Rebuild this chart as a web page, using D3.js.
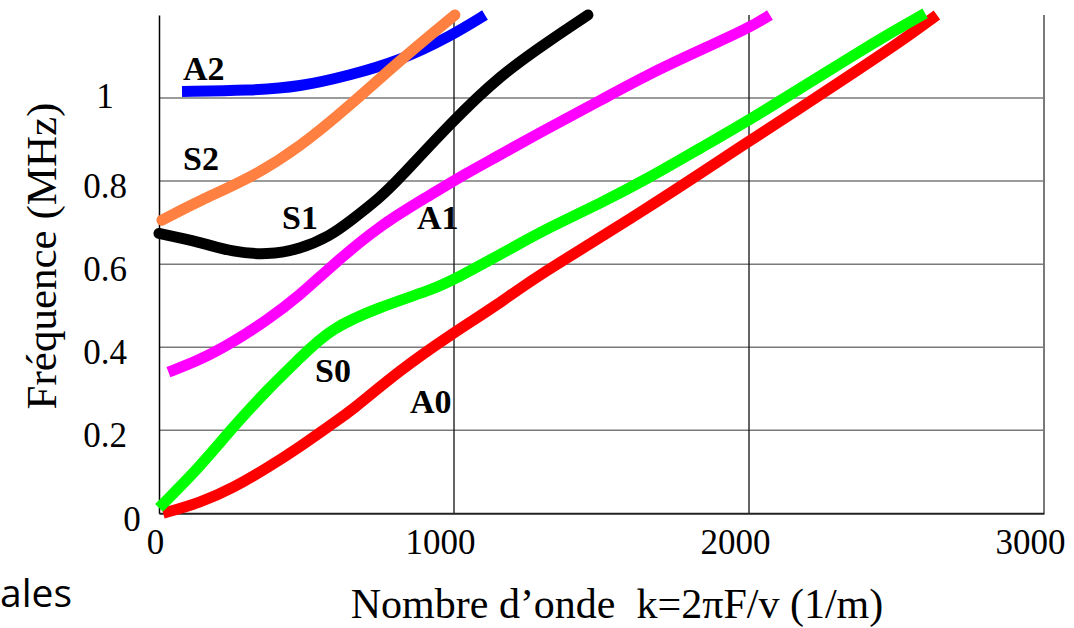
<!DOCTYPE html>
<html>
<head>
<meta charset="utf-8">
<script src="https://cdn.jsdelivr.net/npm/d3@7"></script>
<style>
  body { margin: 0; background: #fff; }
  svg { display: block; }
</style>
</head>
<body>
<svg id="chart"></svg>
<script>
// wave number k (1/m) and frequency (MHz)
const a0K = [14, 139, 251, 366, 478, 590, 647, 817, 986, 1156, 1268, 1664, 2003, 2173, 2342, 2512, 2637];
const a0F = [0.0, 0.025, 0.061, 0.109, 0.16, 0.217, 0.244, 0.345, 0.429, 0.506, 0.566, 0.737, 0.898, 0.975, 1.055, 1.135, 1.2];

const s0K = [0, 139, 251, 366, 478, 580, 749, 919, 997, 1224, 1325, 1495, 1664, 1834, 2003, 2173, 2342, 2512, 2597];
const s0F = [0.013, 0.112, 0.208, 0.297, 0.374, 0.445, 0.497, 0.537, 0.561, 0.65, 0.689, 0.746, 0.809, 0.879, 0.948, 1.023, 1.098, 1.17, 1.204];

const a1K = [32, 139, 251, 366, 478, 580, 749, 919, 1020, 1122, 1325, 1495, 1664, 1834, 2003, 2071];
const a1F = [0.34, 0.369, 0.412, 0.465, 0.525, 0.593, 0.694, 0.766, 0.81, 0.85, 0.93, 0.994, 1.059, 1.115, 1.17, 1.2];

const s1K = [0, 139, 251, 366, 478, 580, 647, 749, 807, 986, 1156, 1325, 1454];
const s1F = [0.674, 0.653, 0.629, 0.622, 0.636, 0.668, 0.703, 0.76, 0.8, 0.938, 1.055, 1.139, 1.2];

const a2K = [78, 308, 478, 647, 817, 986, 1105];
const a2F = [1.016, 1.018, 1.027, 1.055, 1.09, 1.148, 1.2];

const s2K = [10, 139, 308, 478, 647, 817, 1003];
const s2F = [0.706, 0.754, 0.806, 0.882, 0.982, 1.091, 1.2];

const modeNames = ['A0', 'S0', 'A1', 'S1', 'A2', 'S2'];
const modeColors = ['#ff0000', '#00ff00', '#ff00ff', '#000000', '#0000ff', '#ff8040'];

const xTicks = [0, 1000, 2000, 3000];
const yTicks = [0, 0.2, 0.4, 0.6, 0.8, 1];

const serif = '"Liberation Serif", "Times New Roman", Times, serif';

const width = 1074, height = 628;
const margin = {top: 15, right: 30, bottom: 114.7, left: 159};
const innerW = width - margin.left - margin.right;
const innerH = height - margin.top - margin.bottom;

const svg = d3.select('#chart').attr('width', width).attr('height', height);
const chart = svg.append('g').attr('transform', `translate(${margin.left},${margin.top})`);

const xscale = d3.scaleLinear().domain([0, 3000]).range([0, innerW]);
const yscale = d3.scaleLinear().domain([0, 1.2]).range([innerH, 0]);

// horizontal grid
chart.append('g')
  .selectAll('line')
  .data(yTicks.filter(d => d > 0))
  .join('line')
  .attr('x1', 0).attr('x2', innerW)
  .attr('y1', d => yscale(d)).attr('y2', d => yscale(d))
  .attr('stroke', '#7a7a7a').attr('stroke-width', 1.5);

// vertical grid
chart.append('g')
  .selectAll('line')
  .data(xTicks.filter(d => d > 0 && d < 3000))
  .join('line')
  .attr('x1', d => xscale(d)).attr('x2', d => xscale(d))
  .attr('y1', 0).attr('y2', innerH)
  .attr('stroke', '#111').attr('stroke-width', 1.3);

// right border
chart.append('line')
  .attr('x1', xscale(3000)).attr('x2', xscale(3000))
  .attr('y1', 0).attr('y2', innerH)
  .attr('stroke', '#7a7a7a').attr('stroke-width', 2);

// axes
const xaxis = d3.axisBottom(xscale).tickValues(xTicks).tickSize(0).tickFormat(d3.format('d'));
const xg = chart.append('g').attr('transform', `translate(0,${innerH})`).call(xaxis);
xg.select('.domain').attr('stroke', '#222').attr('stroke-width', 2);
xg.selectAll('text')
  .style('font-family', serif)
  .style('font-size', '35px')
  .attr('fill', '#000')
  .attr('dy', null).attr('y', 40.7)
  .attr('dx', d => d === 0 ? -4 : -14);

const yaxis = d3.axisLeft(yscale).tickValues(yTicks).tickSize(0).tickFormat(d => d3.format('')(d));
const yg = chart.append('g').call(yaxis);
yg.select('.domain').attr('stroke', '#000').attr('stroke-width', 1.5);
yg.selectAll('text')
  .style('font-family', serif)
  .style('font-size', '35px')
  .attr('fill', '#000')
  .attr('text-anchor', 'middle')
  .attr('x', d => d === 0 ? -27 : -54)
  .attr('dy', null)
  .attr('y', d => d === 0 ? 17 : (d === 1 ? 9.5 : 16));

// curves
const series = [[a0K, a0F], [s0K, s0F], [a1K, a1F], [s1K, s1F], [a2K, a2F], [s2K, s2F]];
const line = d3.line()
  .x(d => xscale(d[0]))
  .y(d => yscale(d[1]))
  .curve(d3.curveBasis);

chart.append('g')
  .selectAll('path')
  .data(series)
  .join('path')
  .attr('d', s => line(s[0].map((k, i) => [k, s[1][i]])))
  .attr('fill', 'none')
  .attr('stroke', (s, i) => modeColors[i])
  .attr('stroke-width', 11)
  .attr('stroke-linecap', (s, i) => (modeNames[i] === 'S2' || modeNames[i] === 'S1') ? 'round' : 'butt');

// mode labels
const labelPos = {A0: [410, 413], S0: [315, 382], A1: [417, 229], S1: [282, 229], A2: [183, 80], S2: [183, 170]};
svg.append('g')
  .selectAll('text')
  .data(modeNames)
  .join('text')
  .attr('x', d => labelPos[d][0])
  .attr('y', d => labelPos[d][1])
  .style('font-family', serif)
  .style('font-size', '34px')
  .style('font-weight', 'bold')
  .attr('fill', '#000')
  .text(d => d);

// axis titles
svg.append('text')
  .attr('transform', 'translate(56,256) rotate(-90)')
  .attr('text-anchor', 'middle')
  .style('font-family', serif)
  .style('font-size', '43px')
  .text('Fréquence (MHz)');

svg.append('text')
  .attr('x', 617).attr('y', 618)
  .attr('text-anchor', 'middle')
  .style('font-family', serif)
  .style('font-size', '42px')
  .text('Nombre d’onde\u00a0 k=2πF/v (1/m)');

svg.append('text')
  .attr('x', 0).attr('y', 607)
  .style('font-family', '"Open Sans", sans-serif')
  .style('font-size', '39px')
  .text('ales');
</script>
</body>
</html>
